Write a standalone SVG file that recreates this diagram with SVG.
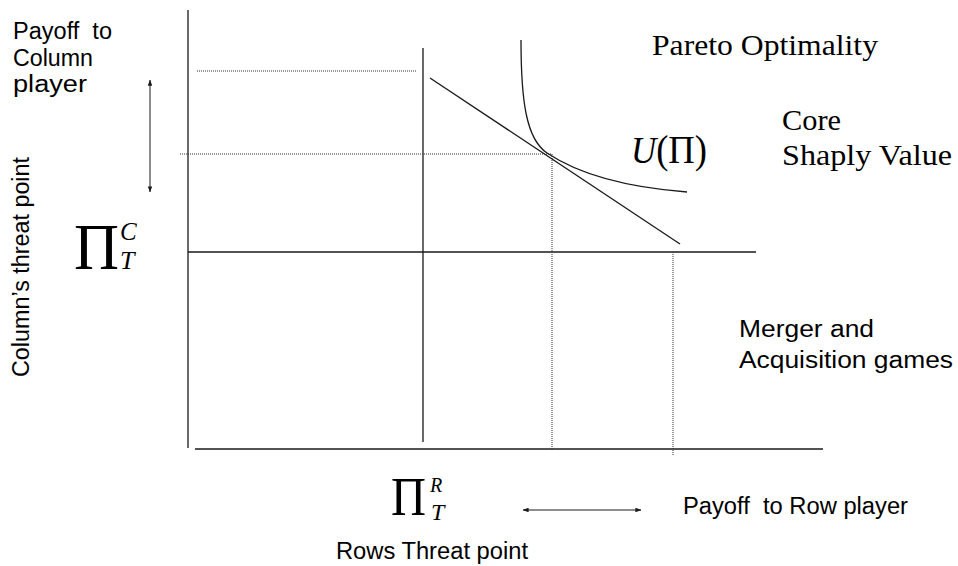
<svg xmlns="http://www.w3.org/2000/svg" width="958" height="566" viewBox="0 0 958 566">
  <style>
    .ax { stroke: #1a1a1a; stroke-width: 1.3; fill: none; }
    .dot { stroke: #333; stroke-width: 1; stroke-dasharray: 1 1; fill: none; }
    .arr { stroke: #1a1a1a; stroke-width: 1; fill: none; marker-start: url(#tip); marker-end: url(#tip); }
    .sans { font-family: "Liberation Sans", Arial, sans-serif; font-size: 23px; fill: #000; }
    .serif { font-family: "Liberation Serif", "Times New Roman", serif; fill: #000; }
    .it { font-style: italic; }
  </style>
  <defs>
    <marker id="tip" viewBox="0 0 8 6" refX="7.5" refY="3" markerWidth="6" markerHeight="4.5" orient="auto-start-reverse" markerUnits="userSpaceOnUse">
      <path d="M0,0 L8,3 L0,6 Z" fill="#1a1a1a"/>
    </marker>
  </defs>
  <rect width="958" height="566" fill="#fff"/>

  <!-- axes and threat-point lines -->
  <g id="axes">
    <line class="ax" x1="188" y1="10" x2="188" y2="448"/>
    <line class="ax" x1="195" y1="449" x2="823" y2="449"/>
    <line class="ax" x1="188" y1="252" x2="756" y2="252"/>
    <line class="ax" x1="423" y1="48" x2="423" y2="442"/>
  </g>

  <!-- dotted guide lines -->
  <g id="guides">
    <line class="dot" x1="197" y1="71" x2="416" y2="71"/>
    <line class="dot" x1="180" y1="154" x2="552" y2="154"/>
    <line class="dot" x1="552" y1="154" x2="552" y2="449"/>
    <line class="dot" x1="673" y1="252" x2="673" y2="455"/>
  </g>

  <!-- frontier line and utility curve -->
  <g id="curves">
    <line class="ax" x1="430" y1="78" x2="680" y2="244" stroke-width="1.2"/>
    <path class="ax" stroke-width="1.2" d="M521,40 C521,100 526,139 547,153 C568,167 610,186 687,192"/>
  </g>

  <!-- direction arrows -->
  <g id="connectors">
    <line class="arr" x1="150" y1="80" x2="150" y2="192"/>
    <line class="arr" x1="523" y1="510" x2="641" y2="510"/>
  </g>

  <!-- labels -->
  <g id="label-column-payoff">
    <text class="sans" x="13" y="39" textLength="99" lengthAdjust="spacingAndGlyphs" xml:space="preserve">Payoff  to</text>
    <text class="sans" x="13" y="66" textLength="80" lengthAdjust="spacingAndGlyphs">Column</text>
    <text class="sans" x="13" y="92" textLength="74" lengthAdjust="spacingAndGlyphs">player</text>
  </g>
  <g id="label-column-threat">
    <text class="sans" transform="translate(29,377) rotate(-90)" x="0" y="0" textLength="220" lengthAdjust="spacingAndGlyphs">Column’s threat point</text>
  </g>
  <g id="label-pi-c">
    <text class="serif" x="74" y="269" font-size="66" textLength="45" lengthAdjust="spacingAndGlyphs">Π</text>
    <text class="serif it" x="120" y="240" font-size="25">C</text>
    <text class="serif it" x="120" y="269" font-size="26">T</text>
  </g>
  <g id="label-pi-r">
    <text class="serif" x="391" y="515" font-size="55" textLength="35" lengthAdjust="spacingAndGlyphs">Π</text>
    <text class="serif it" x="430" y="492" font-size="20">R</text>
    <text class="serif it" x="431" y="520" font-size="24">T</text>
  </g>
  <g id="label-pareto">
    <text class="serif" x="652" y="55" font-size="29" textLength="226" lengthAdjust="spacingAndGlyphs">Pareto Optimality</text>
  </g>
  <g id="label-utility">
    <text class="serif" x="631" y="163" font-size="40" textLength="76" lengthAdjust="spacingAndGlyphs"><tspan class="it" font-size="38">U</tspan>(Π)</text>
  </g>
  <g id="label-core">
    <text class="serif" x="782" y="130" font-size="29" textLength="59" lengthAdjust="spacingAndGlyphs">Core</text>
    <text class="serif" x="782" y="165" font-size="29" textLength="170" lengthAdjust="spacingAndGlyphs">Shaply Value</text>
  </g>
  <g id="label-merger">
    <text class="sans" x="739" y="337" textLength="135" lengthAdjust="spacingAndGlyphs">Merger and</text>
    <text class="sans" x="739" y="368" textLength="214" lengthAdjust="spacingAndGlyphs">Acquisition games</text>
  </g>
  <g id="label-row-payoff">
    <text class="sans" x="683" y="514" textLength="225" lengthAdjust="spacingAndGlyphs" xml:space="preserve">Payoff  to Row player</text>
  </g>
  <g id="label-row-threat">
    <text class="sans" x="336" y="559" textLength="192" lengthAdjust="spacingAndGlyphs">Rows Threat point</text>
  </g>
</svg>
